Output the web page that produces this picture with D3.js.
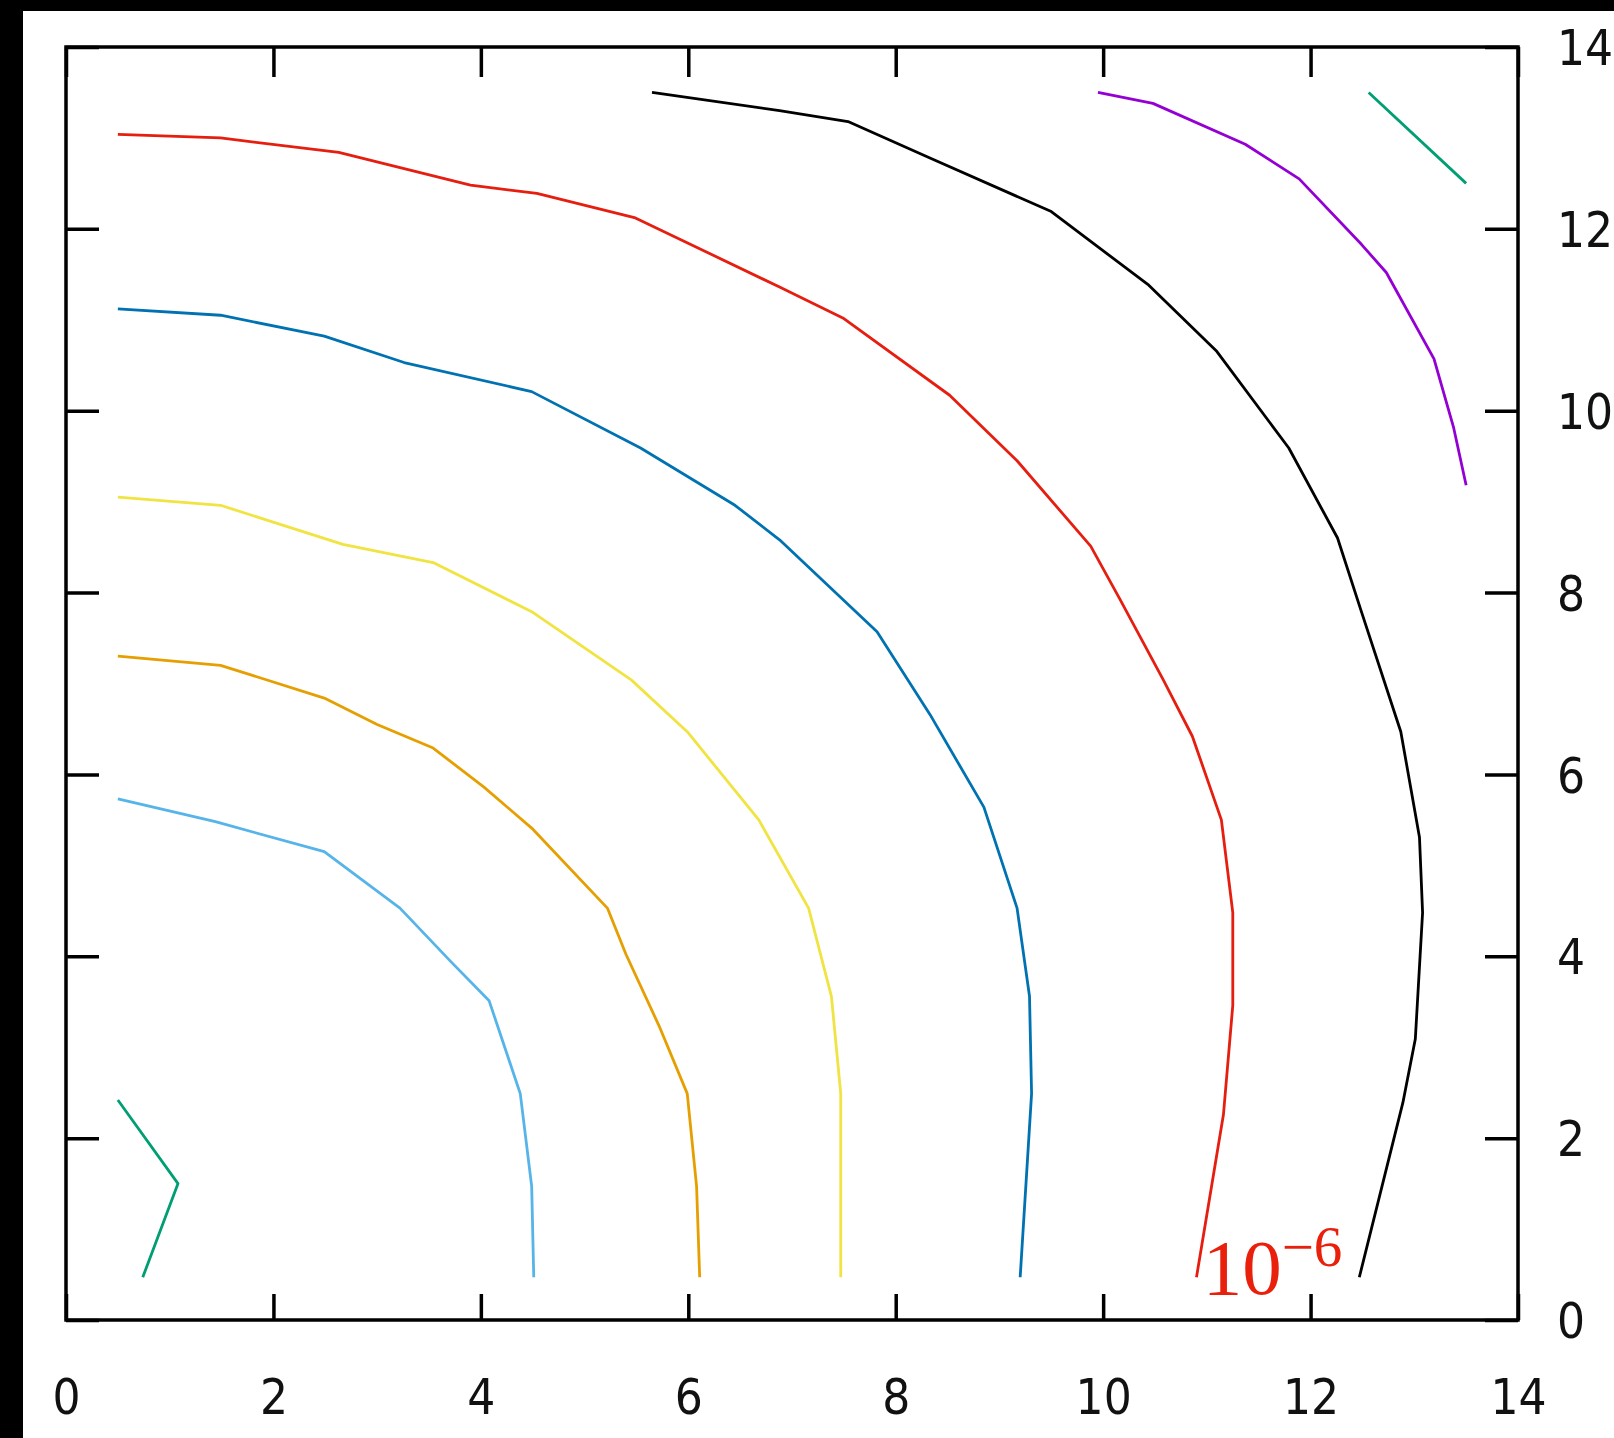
<!DOCTYPE html>
<html>
<head>
<meta charset="utf-8">
<script src="https://cdn.jsdelivr.net/npm/d3@7"></script>
<style>
  body { margin: 0; background: #fff; }
</style>
</head>
<body>
<div id="chart"></div>
<script>
// contour levels (data units)
const lightBlue = [[0.5,5.73],[1.44,5.48],[2.49,5.15],[3.22,4.53],[3.72,3.93],[4.08,3.51],[4.38,2.49],[4.49,1.47],[4.51,0.47]];
const orange = [[0.5,7.3],[1.49,7.2],[2.49,6.84],[3.0,6.55],[3.54,6.29],[4.03,5.86],[4.49,5.41],[5.22,4.53],[5.4,4.02],[5.72,3.23],[5.99,2.49],[6.08,1.47],[6.11,0.47]];
const yellow = [[0.5,9.05],[1.49,8.96],[2.67,8.53],[3.54,8.33],[4.49,7.79],[5.45,7.04],[5.99,6.47],[6.68,5.5],[7.16,4.53],[7.38,3.56],[7.47,2.49],[7.47,0.47]];
const blue = [[0.5,11.12],[1.49,11.05],[2.49,10.82],[3.26,10.53],[4.49,10.21],[5.54,9.59],[6.45,8.96],[6.88,8.58],[7.82,7.57],[8.33,6.66],[8.85,5.64],[9.17,4.53],[9.29,3.56],[9.31,2.49],[9.2,0.47]];
const red = [[0.5,13.04],[1.49,13.0],[2.63,12.84],[3.9,12.48],[4.54,12.39],[5.49,12.12],[6.88,11.36],[7.49,11.02],[8.52,10.17],[9.17,9.45],[9.88,8.51],[10.16,7.93],[10.58,7.04],[10.86,6.42],[11.14,5.5],[11.25,4.48],[11.25,3.46],[11.16,2.26],[10.9,0.47]];
const black = [[5.65,13.5],[6.88,13.3],[7.54,13.18],[8.33,12.78],[9.5,12.19],[10.44,11.38],[11.09,10.66],[11.79,9.59],[12.26,8.6],[12.49,7.79],[12.87,6.47],[13.05,5.31],[13.08,4.48],[13.01,3.09],[12.89,2.39],[12.47,0.47]];
const purple = [[9.95,13.5],[10.48,13.38],[11.37,12.93],[11.89,12.55],[12.49,11.83],[12.73,11.52],[13.19,10.57],[13.38,9.81],[13.5,9.18]];
const tealTop = [[12.56,13.5],[13.5,12.5]];
const tealBottom = [[0.5,2.42],[1.08,1.5],[0.74,0.47]];

const contours = [
  { pts: lightBlue, color: "#56b4e9" },
  { pts: orange, color: "#e69f00" },
  { pts: yellow, color: "#f0e442" },
  { pts: blue, color: "#0072b2" },
  { pts: red, color: "#e51e10" },
  { pts: black, color: "#000000" },
  { pts: purple, color: "#9400d3" },
  { pts: tealTop, color: "#009e73" },
  { pts: tealBottom, color: "#009e73" }
];

const xTicks = [0, 2, 4, 6, 8, 10, 12, 14];
const yTicks = [0, 2, 4, 6, 8, 10, 12, 14];
const labelPos = [10.96, 0.29];

const W = 1614, H = 1438;
const margin = { top: 47, right: 96, bottom: 118, left: 66 };
const width = W - margin.left - margin.right;
const height = H - margin.top - margin.bottom;

const root = d3.select("#chart")
  .append("svg")
  .attr("width", W)
  .attr("height", H);

// black strips on the top and left edges
root.append("rect").attr("x", 0).attr("y", 0).attr("width", W).attr("height", 11).attr("fill", "#000");
root.append("rect").attr("x", 0).attr("y", 0).attr("width", 23).attr("height", H).attr("fill", "#000");

const svg = root.append("g")
  .attr("transform", `translate(${margin.left},${margin.top})`);

// Scales
const x = d3.scaleLinear().domain([0, 14]).range([0, width]);
const y = d3.scaleLinear().domain([0, 14]).range([height, 0]);

// Axes (ticks point inward)
const fontFam = "DejaVu Sans Condensed, DejaVu Sans, sans-serif";

const axBottom = svg.append("g")
  .attr("transform", `translate(0,${height})`)
  .call(d3.axisBottom(x).tickValues(xTicks).tickSize(-26).tickPadding(59));
const axTop = svg.append("g")
  .call(d3.axisTop(x).tickValues(xTicks).tickSize(-30).tickFormat(""));
const axLeft = svg.append("g")
  .call(d3.axisLeft(y).tickValues(yTicks).tickSize(-33).tickFormat(""));
const axRight = svg.append("g")
  .attr("transform", `translate(${width},0)`)
  .call(d3.axisRight(y).tickValues(yTicks).tickSize(-33).tickPadding(39));

[axBottom, axTop, axLeft, axRight].forEach(g => {
  g.select(".domain").remove();
  g.selectAll(".tick line").attr("stroke", "#000").attr("stroke-width", 3.5);
  g.selectAll("text")
    .attr("font-family", fontFam)
    .attr("font-size", 49)
    .attr("fill", "#111");
});
axRight.selectAll("text").attr("text-anchor", "start").attr("dy", "0.36em");

// frame
svg.append("rect")
  .attr("x", 0).attr("y", 0)
  .attr("width", width).attr("height", height)
  .attr("fill", "none")
  .attr("stroke", "#000")
  .attr("stroke-width", 3.5);

// contour lines
const line = d3.line().x(d => x(d[0])).y(d => y(d[1]));

svg.selectAll("path.contour")
  .data(contours)
  .enter()
  .append("path")
  .attr("class", "contour")
  .attr("d", d => line(d.pts))
  .attr("fill", "none")
  .attr("stroke", d => d.color)
  .attr("stroke-width", 2.8)
  .attr("stroke-linejoin", "round");

// level label
const lab = svg.append("text")
  .attr("x", x(labelPos[0]))
  .attr("y", y(labelPos[1]))
  .attr("font-family", "Liberation Serif, serif")
  .attr("font-size", 79)
  .attr("fill", "#e8200c");
lab.append("tspan").text("10");
lab.append("tspan")
  .attr("dy", -28)
  .attr("font-size", 57)
  .text("\u22126");
</script>
</body>
</html>
